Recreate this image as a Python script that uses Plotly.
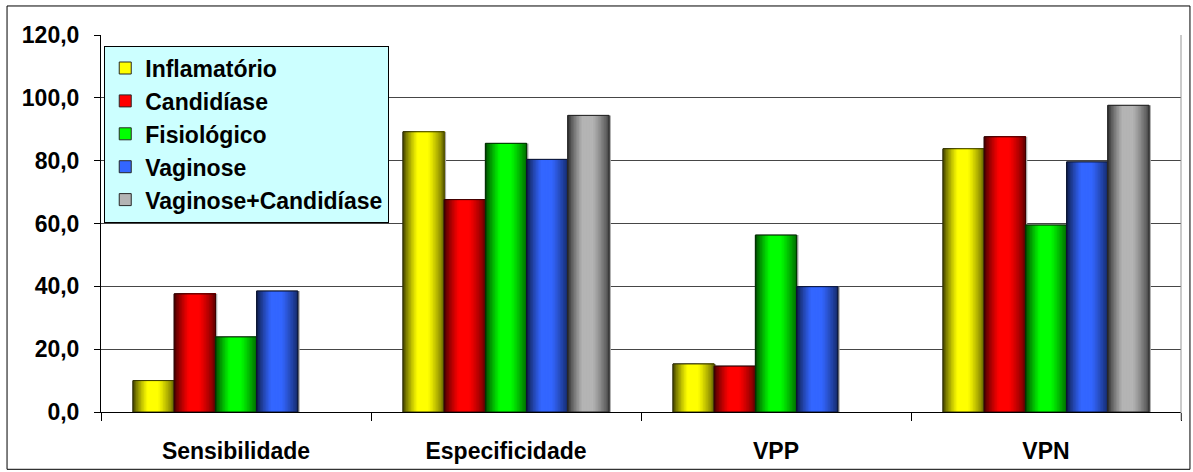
import plotly.graph_objects as go

# Indicadores de desempenho por padrão de microbiota
categories = ["Sensibilidade", "Especificidade", "VPP", "VPN"]

inflamatorio = [10.0, 89.2, 15.3, 83.8]
candidiase = [37.6, 67.6, 14.6, 87.6]
fisiologico = [23.9, 85.5, 56.3, 59.5]
vaginose = [38.5, 80.4, 39.9, 79.6]
vaginose_candidiase = [None, 94.4, None, 97.6]

series_names = ["Inflamatório", "Candidíase", "Fisiológico", "Vaginose", "Vaginose+Candidíase"]
series_values = [inflamatorio, candidiase, fisiologico, vaginose, vaginose_candidiase]
series_rgb = [(255, 255, 0), (255, 0, 0), (0, 255, 0), (51, 102, 255), (180, 180, 180)]

y_ticks = [0, 20, 40, 60, 80, 100, 120]

FONT = "Liberation Sans, Arial, sans-serif"
FS = 23
BAR_W = 0.1526          # width of one bar in category units
N_STRIPS = 26           # horizontal shading steps per bar


def shade(t):
    """Brightness across a bar: dark left edge, bright band, darker right edge."""
    if t < 0.35:
        return 0.22 + 0.78 * (t / 0.35) ** 0.75
    if t < 0.6:
        return 1.0
    return 1.0 - 0.58 * ((t - 0.6) / 0.4) ** 1.2


def rgb(c, f=1.0):
    r, g, b = (max(0, min(255, int(round(v * f)))) for v in c)
    return f"rgb({r},{g},{b})"


fig = go.Figure()
n = len(series_names)
group_left = -n * BAR_W / 2

for i, (name, vals, col) in enumerate(zip(series_names, series_values, series_rgb)):
    left = group_left + i * BAR_W
    common = dict(x=categories, y=vals, hoverinfo="skip", legendgroup=name)
    # soft drop shadow on the right
    fig.add_trace(go.Bar(**common, offset=left + 0.007, width=BAR_W,
                         marker=dict(color="rgb(170,170,170)", line=dict(width=0)),
                         showlegend=False))
    # base bar (also provides the legend entry)
    fig.add_trace(go.Bar(**common, name=name, offset=left, width=BAR_W,
                         marker=dict(color=rgb(col), line=dict(color="rgb(40,40,40)", width=1)),
                         showlegend=True))
    # cylinder-like horizontal shading
    for k in range(N_STRIPS):
        t = (k + 0.5) / N_STRIPS
        x0 = left + k * BAR_W / N_STRIPS
        fig.add_trace(go.Bar(**common, offset=x0, width=left + BAR_W - x0,
                             marker=dict(color=rgb(col, shade(t)), line=dict(width=0)),
                             showlegend=False))
    # outline
    fig.add_trace(go.Bar(**common, offset=left, width=BAR_W,
                         marker=dict(color="rgba(0,0,0,0)",
                                     line=dict(color=rgb(col, 0.2), width=1)),
                         showlegend=False))

fig.update_layout(
    width=1193, height=472, autosize=False,
    margin=dict(l=101, r=12, t=35, b=60),
    paper_bgcolor="white", plot_bgcolor="white",
    barmode="overlay",
    separators=",.",
    font=dict(family=FONT, size=FS, color="black", weight="bold"),
    showlegend=True,
    legend=dict(
        x=0.003, y=0.972, xanchor="left", yanchor="top",
        bgcolor="#CCFFFF", bordercolor="black", borderwidth=1,
        font=dict(family=FONT, size=FS, color="black", weight="bold"),
        traceorder="normal", tracegroupgap=4,
    ),
    xaxis=dict(
        type="category", categoryorder="array", categoryarray=categories,
        range=[-0.5, len(categories) - 0.5], automargin=False,
        showline=True, linecolor="black", linewidth=1,
        ticks="outside", tickson="boundaries", ticklen=8, tickcolor="black",
        ticklabelstandoff=18,
        showgrid=False, zeroline=False,
        tickfont=dict(family=FONT, size=FS, color="black", weight="bold"),
    ),
    yaxis=dict(
        range=[0, 120], tickvals=y_ticks, tickformat=".1f", automargin=False,
        showline=True, linecolor="black", linewidth=1,
        ticks="outside", ticklen=6, tickcolor="black",
        ticklabelstandoff=10,
        showgrid=True, gridcolor="rgb(70,70,70)", gridwidth=1, zeroline=False,
        tickfont=dict(family=FONT, size=FS, color="black", weight="bold"),
    ),
    shapes=[
        # right edge of the plot area
        dict(type="line", xref="paper", yref="paper", x0=1, x1=1, y0=-0.022, y1=1,
             line=dict(color="rgb(150,150,150)", width=1)),
        # chart frame
        dict(type="rect", xref="paper", yref="paper",
             x0=-0.087, x1=1.0083, y0=-0.152, y1=1.077,
             line=dict(color="black", width=1), fillcolor="rgba(0,0,0,0)", layer="below"),
    ],
)

fig.write_html("out.html")
